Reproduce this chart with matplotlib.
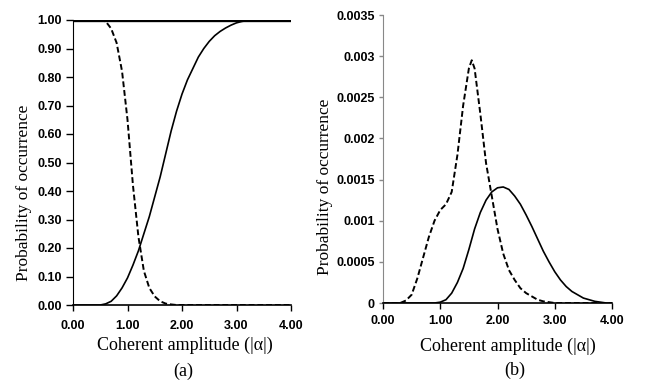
import matplotlib.pyplot as plt

# amplitude grid (|alpha|), step 0.1
x = [i / 10 for i in range(41)]

# panel (a): probability curves
a_dashed = [1.0, 1.0, 1.0, 1.0, 1.0, 1.0, 0.995, 0.97, 0.92, 0.82,
            0.65, 0.42, 0.24, 0.12, 0.06, 0.03, 0.013, 0.005, 0.002, 0.0,
            0.0, 0.0, 0.0, 0.0, 0.0, 0.0, 0.0, 0.0, 0.0, 0.0,
            0.0, 0.0, 0.0, 0.0, 0.0, 0.0, 0.0, 0.0, 0.0, 0.0, 0.0]
a_solid = [0.0, 0.0, 0.0, 0.0, 0.0, 0.0, 0.004, 0.013, 0.032, 0.06,
           0.095, 0.14, 0.19, 0.25, 0.31, 0.38, 0.45, 0.53, 0.61, 0.68,
           0.74, 0.79, 0.83, 0.87, 0.90, 0.925, 0.945, 0.96, 0.972, 0.982,
           0.99, 0.995, 0.998, 1.0, 1.0, 1.0, 1.0, 1.0, 1.0, 1.0, 1.0]
a_total = [1.0] * len(x)

# panel (b): probability of occurrence
b_dashed_x = [0.0, 0.3, 0.4, 0.5, 0.6, 0.7, 0.8, 0.9, 1.0, 1.1, 1.2, 1.3, 1.4, 1.5,
              1.55, 1.6, 1.7, 1.8, 1.9, 2.0, 2.1, 2.2, 2.3, 2.4, 2.5, 2.6, 2.7,
              2.8, 2.9, 3.0, 4.0]
b_dashed = [0.0, 0.0, 0.00003, 0.0001, 0.0003, 0.00055, 0.0008, 0.001, 0.00113, 0.0012,
            0.00135, 0.0018, 0.0024, 0.00285, 0.00295, 0.00285, 0.0023, 0.0017, 0.0013,
            0.0009, 0.0006, 0.0004, 0.00028, 0.00018, 0.00012, 0.00008, 0.00004,
            0.00002, 0.00001, 0.0, 0.0]
b_solid = [0.0, 0.0, 0.0, 0.0, 0.0, 0.0, 0.0, 0.0, 0.0, 0.0,
           0.00001, 0.00004, 0.00012, 0.00025, 0.00042, 0.00065, 0.0009, 0.0011, 0.00125, 0.00135,
           0.0014, 0.00141, 0.00138, 0.0013, 0.0012, 0.00107, 0.00093, 0.00078, 0.00063, 0.0005,
           0.00038, 0.00028, 0.0002, 0.00014, 0.0001, 0.00006, 0.00004, 0.00002, 0.00001, 0.0, 0.0]

xticks = [0, 1, 2, 3, 4]
xticklabels = ['0.00', '1.00', '2.00', '3.00', '4.00']
a_yticks = [i / 10 for i in range(11)]
a_yticklabels = ['%.2f' % v for v in a_yticks]
b_yticks = [0, 0.0005, 0.001, 0.0015, 0.002, 0.0025, 0.003, 0.0035]
b_yticklabels = ['0', '0.0005', '0.001', '0.0015', '0.002', '0.0025', '0.003', '0.0035']

tick_font = dict(family='Liberation Sans', weight='bold', size=9)
xlabel_font = dict(family='Liberation Serif', size=13)
ylabel_font = dict(family='Liberation Serif', size=12.5)

fig = plt.figure(figsize=(6.48, 3.87), dpi=100)

# (a)
ax1 = fig.add_axes([73 / 648, 1 - 305 / 387, 218 / 648, 285 / 387])
ax1.plot(x, a_total, color='black', lw=2.4)
ax1.plot(x, a_dashed, color='black', lw=1.4, ls=(0, (3, 1.5)))
ax1.plot(x, a_solid, color='black', lw=1.2)
ax1.set_xlim(0, 4)
ax1.set_ylim(0, 1)
ax1.set_xticks(xticks)
ax1.set_xticklabels(xticklabels, **tick_font)
ax1.set_yticks(a_yticks)
ax1.set_yticklabels(a_yticklabels, **tick_font)

# (b)
ax2 = fig.add_axes([383 / 648, 1 - 303 / 387, 229 / 648, 288 / 387])
ax2.plot(b_dashed_x, b_dashed, color='black', lw=1.4, ls=(0, (3, 1.5)))
ax2.plot(x, b_solid, color='black', lw=1.2)
ax2.set_xlim(0, 4)
ax2.set_ylim(0, 0.0035)
ax2.set_xticks(xticks)
ax2.set_xticklabels(xticklabels, **tick_font)
ax2.set_yticks(b_yticks)
ax2.set_yticklabels(b_yticklabels, **tick_font)
ax2.spines['left'].set_color('#888888')

for ax in (ax1, ax2):
    ax.spines['top'].set_visible(False)
    ax.spines['right'].set_visible(False)
    ax.tick_params(direction='out', width=1, pad=3)
    ax.tick_params(axis='x', length=4)
    ax.spines['bottom'].set_linewidth(1.2)

ax1.tick_params(axis='y', length=5)
ax1.tick_params(axis='x', pad=7)
ax2.tick_params(axis='y', length=3, color='#888888')
ax2.tick_params(axis='x', pad=5)

# axis titles and captions
fig.text(185 / 648, 1 - 345 / 387, 'Coherent amplitude (|α|)', ha='center', va='center', **xlabel_font)
fig.text(508 / 648, 1 - 346 / 387, 'Coherent amplitude (|α|)', ha='center', va='center', **xlabel_font)
fig.text(183 / 648, 1 - 371 / 387, '(a)', ha='center', va='center', **xlabel_font)
fig.text(515 / 648, 1 - 370 / 387, '(b)', ha='center', va='center', **xlabel_font)
fig.text(24 / 648, 1 - 193 / 387, 'Probability of occurrence', rotation=90,
         ha='center', va='center', **ylabel_font)
fig.text(325 / 648, 1 - 187 / 387, 'Probability of occurrence', rotation=90,
         ha='center', va='center', **ylabel_font)

fig.savefig('out.png', dpi=100)
